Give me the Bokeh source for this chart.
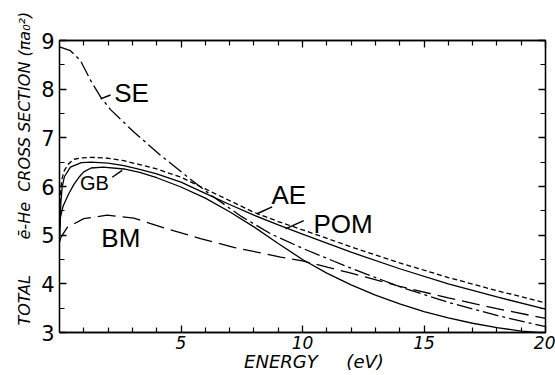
from bokeh.plotting import figure
from bokeh.models import Range1d, FixedTicker, LinearAxis
from bokeh.core.properties import value
from bokeh.embed import file_html
from bokeh.resources import INLINE

# ---------------- data ----------------
ae_x = [0.0, 0.04, 0.1, 0.2, 0.38, 0.6, 0.93, 1.3, 2.0, 2.65, 3.3, 4.0, 5.0, 6.0, 7.0, 8.0, 9.0, 10.0, 12.0, 14.0, 16.0, 18.0, 20.0]
ae_y = [5.0, 5.9, 6.15, 6.33, 6.47, 6.56, 6.59, 6.60, 6.58, 6.53, 6.45, 6.36, 6.19, 5.95, 5.71, 5.47, 5.28, 5.11, 4.76, 4.43, 4.13, 3.86, 3.61]

pom_x = [0.0, 0.06, 0.11, 0.2, 0.45, 0.9, 1.3, 2.0, 2.65, 3.3, 4.0, 5.0, 6.0, 7.0, 8.0, 9.0, 10.0, 12.0, 14.0, 16.0, 18.0, 20.0]
pom_y = [5.0, 5.7, 5.99, 6.2, 6.40, 6.49, 6.50, 6.48, 6.43, 6.35, 6.26, 6.09, 5.86, 5.63, 5.41, 5.21, 5.02, 4.65, 4.31, 4.00, 3.73, 3.48]

gb_x = [0.0, 0.04, 0.15, 0.38, 0.6, 0.8, 1.0, 1.3, 1.8, 2.65, 3.3, 4.0, 5.0, 6.0, 7.0, 8.0, 9.0, 10.0, 11.0, 12.0, 13.0, 14.0, 15.0, 16.0, 17.0, 18.0, 19.0, 19.7]
gb_y = [5.0, 5.37, 5.6, 5.85, 6.05, 6.19, 6.30, 6.38, 6.40, 6.36, 6.29, 6.18, 5.99, 5.76, 5.48, 5.17, 4.83, 4.50, 4.22, 3.98, 3.77, 3.59, 3.43, 3.30, 3.19, 3.10, 3.03, 3.0]

se_x = [0.0, 0.45, 0.86, 1.28, 1.69, 2.1, 3.06, 4.16, 5.26, 6.3, 7.5, 8.68, 10.0, 12.0, 14.0, 16.0, 18.0, 20.0]
se_y = [8.87, 8.79, 8.59, 8.18, 7.84, 7.58, 7.12, 6.64, 6.20, 5.80, 5.38, 5.03, 4.73, 4.32, 3.94, 3.62, 3.35, 3.12]

bm_x = [0.0, 0.05, 0.32, 1.0, 1.96, 3.06, 4.43, 5.8, 7.17, 9.1, 10.0, 12.0, 14.0, 16.0, 18.0, 20.0]
bm_y = [4.85, 4.95, 5.16, 5.34, 5.41, 5.35, 5.13, 4.93, 4.75, 4.55, 4.47, 4.22, 3.95, 3.71, 3.49, 3.29]

x_ticks = [5, 10, 15, 20]
x_minor = [1, 2, 3, 4, 6, 7, 8, 9, 11, 12, 13, 14, 16, 17, 18, 19]
y_ticks = [3, 4, 5, 6, 7, 8, 9]
y_minor = [3.5, 4.5, 5.5, 6.5, 7.5, 8.5]

curve_names = ["SE", "AE", "POM", "BM"]
curve_label_x = [2.25, 8.72, 10.45, 1.72]
curve_label_y = [7.93, 5.83, 5.23, 4.95]
gb_label_x = [0.84]
gb_label_y = [6.07]

leader_x0 = [1.69, 2.17, 8.13, 9.30]
leader_y0 = [7.80, 6.19, 5.44, 5.13]
leader_x1 = [2.10, 2.58, 8.75, 10.05]
leader_y1 = [7.88, 6.33, 5.58, 5.30]

NB = "\u00a0"
x_title = NB * 4 + "ENERGY" + NB * 5 + "(eV)"
y_title = NB * 7 + "TOTAL" + NB * 7 + "ē-He" + NB * 2 + "CROSS SECTION (πa₀²)"

# ---------------- figure ----------------
p = figure(width=555, height=375, output_backend="svg", toolbar_location=None,
           x_range=Range1d(0, 20), y_range=Range1d(3, 9),
           min_border_left=59, min_border_right=10, min_border_top=40, min_border_bottom=43,
           background_fill_color="white", border_fill_color="white")
p.grid.visible = False
p.outline_line_color = "black"
p.outline_line_width = 1.3


def style_axis(ax, ticks, minor, labels):
    ax.ticker = FixedTicker(ticks=ticks, minor_ticks=minor)
    ax.axis_line_color = "black"
    ax.axis_line_width = 1.3
    ax.major_tick_line_color = "black"
    ax.major_tick_line_width = 1.3
    ax.minor_tick_line_color = "black"
    ax.minor_tick_line_width = 1.2
    ax.major_tick_in = 7
    ax.major_tick_out = 0
    ax.minor_tick_in = 5
    ax.minor_tick_out = 0
    if not labels:
        ax.major_label_text_color = None
        ax.major_label_text_font_size = "1px"
        ax.major_label_standoff = 0


xa = p.xaxis[0]
style_axis(xa, x_ticks, x_minor, True)
xa.major_label_text_font = "DejaVu Sans"
xa.major_label_text_font_style = "italic"
xa.major_label_text_font_size = "17px"
xa.major_label_text_color = "black"
xa.major_label_standoff = 3
xa.axis_label = x_title
xa.axis_label_text_font = "DejaVu Sans"
xa.axis_label_text_font_style = "italic"
xa.axis_label_text_font_size = "18px"
xa.axis_label_text_color = "black"
xa.axis_label_standoff = -1

ya = p.yaxis[0]
style_axis(ya, y_ticks, y_minor, True)
ya.major_label_text_font = "DejaVu Sans"
ya.major_label_text_font_size = "21px"
ya.major_label_text_color = "black"
ya.major_label_standoff = 5
ya.axis_label = y_title
ya.axis_label_text_font = "DejaVu Sans"
ya.axis_label_text_font_style = "italic"
ya.axis_label_text_font_size = "16px"
ya.axis_label_text_color = "black"
ya.axis_label_standoff = 4

ra = LinearAxis()
style_axis(ra, y_ticks, y_minor, False)
p.add_layout(ra, "right")
ta = LinearAxis()
style_axis(ta, x_ticks, x_minor, False)
p.add_layout(ta, "above")

lw = 1.3
p.line(ae_x, ae_y, line_color="black", line_width=lw, line_dash="5 3")
p.line(pom_x, pom_y, line_color="black", line_width=lw)
p.line(gb_x, gb_y, line_color="black", line_width=lw)
p.line(se_x, se_y, line_color="black", line_width=lw, line_dash="16 4 3 4")
p.line(bm_x, bm_y, line_color="black", line_width=lw, line_dash="18 7")

p.segment(leader_x0, leader_y0, leader_x1, leader_y1, line_color="black", line_width=1.5)

p.text(curve_label_x, curve_label_y, text=curve_names, text_font=value("Liberation Sans"),
       text_font_size="26px", text_color="black", text_baseline="alphabetic", text_align="left")
p.text(gb_label_x, gb_label_y, text=["GB"], text_font=value("Liberation Sans"),
       text_font_size="20px", text_color="black", text_baseline="alphabetic", text_align="left")

open("out.html", "w").write(file_html(p, INLINE))
